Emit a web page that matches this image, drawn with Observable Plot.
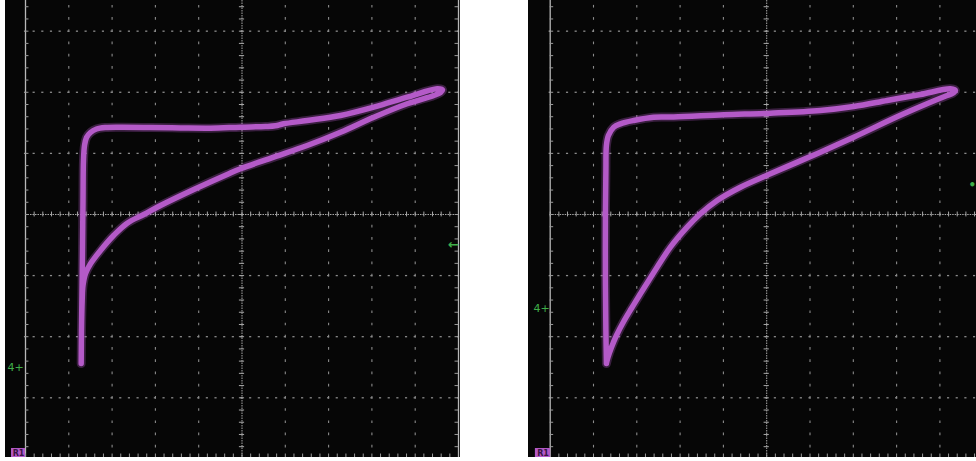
<!DOCTYPE html>
<html><head><meta charset="utf-8">
<script src="https://cdn.jsdelivr.net/npm/d3@7"></script>
<script src="https://cdn.jsdelivr.net/npm/@observablehq/plot@0.6"></script>
<style>
html,body{margin:0;padding:0;background:#fff}
body{width:976px;height:461px;overflow:hidden;position:relative;font-family:"DejaVu Sans",sans-serif}
.panel{position:absolute;top:0;line-height:0}
</style></head><body>
<div id="left" class="panel" style="left:5px"></div>
<div id="right" class="panel" style="left:528px"></div>
<script>
// ---- Data (screen divisions: x -5..5, y -4..4, origin at screen centre) ----
const leftX = [-3.714,-3.707,-3.695,-3.684,-3.672,-3.661,-3.637,-3.591,-3.499,-3.360,-3.152,-2.806,-2.113,-1.420,-0.727,-0.035,0.543,0.774,0.958,1.506,2.275,3.044,3.815,4.508,4.630,4.584,
               4.430,3.815,3.044,2.275,1.506,0.734,-0.035,-0.342,-1.113,-1.882,-2.268,-2.651,-2.961,-3.268,-3.499,-3.614,-3.672,-3.691,-3.707,-3.714];
const leftY = [-2.439,-1.899,-1.244,-0.589,0.229,0.884,1.129,1.260,1.342,1.399,1.424,1.429,1.424,1.416,1.412,1.429,1.440,1.452,1.484,1.538,1.620,1.756,1.920,2.057,2.038,1.997,
               1.948,1.812,1.592,1.347,1.129,0.938,0.748,0.655,0.409,0.147,0.000,-0.142,-0.340,-0.589,-0.807,-0.966,-1.162,-1.408,-1.899,-2.439];
const rightX = [-3.702,-3.714,-3.725,-3.725,-3.714,-3.702,-3.656,-3.533,-3.379,-3.072,-2.610,-2.148,-0.993,0.085,1.240,2.009,2.781,3.550,4.243,4.358,4.289,
                4.166,3.164,2.009,1.240,0.085,-0.607,-1.145,-1.531,-1.838,-2.224,-2.531,-2.917,-3.125,-3.303,-3.471,-3.587,-3.667,-3.702];
const rightY = [-2.439,-1.899,-1.080,-0.098,0.720,1.129,1.293,1.429,1.484,1.538,1.592,1.596,1.632,1.658,1.702,1.768,1.866,1.964,2.057,2.029,1.980,
                1.948,1.648,1.265,1.020,0.666,0.447,0.229,0.011,-0.208,-0.535,-0.862,-1.298,-1.538,-1.751,-1.980,-2.177,-2.340,-2.439];

const majorX = [-5,-4,-3,-2,-1,0,1,2,3,4,5];
const majorY = [-4,-3,-2,-1,0,1,2,3];
const channelLabel = "4+";
const refLabel = "R1";
const leftArrowLabel = "←";
const rightArrowLabel = "•";
// annotation anchors [x, y] in divisions
const leftChannelPos = [-5.23, -2.50];
const rightChannelPos = [-5.20, -1.54];
const leftArrowPos = [4.885, -0.49];
const rightArrowPos = [4.75, 0.475];
const leftRefBox = [-5.323, -5.0, -3.83, -3.977];
const rightRefBox = [-5.342, -4.99, -3.83, -3.977];

const Y_MIN = -3.977, Y_MAX = 3.502;
const TRACE = "#b45ac8";
const GREEN = "#3fae49";

function scope({xs, ys, width, marginLeft, marginRight, xDomain, chPos, arPos, arLabel, arSize, refBox, rightBorder}) {
  const trace = xs.map((x, i) => ({x, y: ys[i]}));
  const minorX = d3.range(-5, 5.0001, 0.2);
  const minorY = d3.range(-4, 3.6, 0.2);
  const hDots = [], vDots = [], cH = [], cV = [], bL = [], bR = [], bB = [];
  for (const k of majorY) if (k !== 0 && k !== -4) for (const m of minorX) hDots.push({y: k, x1: m - 0.025, x2: m + 0.025});
  for (const k of majorX) if (k !== 0 && Math.abs(k) !== 5) for (const m of minorY) vDots.push({x: k, y1: m - 0.022, y2: m + 0.022});
  for (const m of minorX) cH.push({x: m, y1: -0.04, y2: 0.04});
  for (const m of minorY) cV.push({y: m, x1: -0.06, x2: 0.06});
  for (const m of minorY) { bL.push({y: m, x1: -5, x2: -4.92}); bR.push({y: m, x1: 4.92, x2: 5}); }
  for (const m of minorX) bB.push({x: m, y1: -3.977, y2: -3.92});
  const marks = [
    Plot.ruleY(hDots, {y: "y", x1: "x1", x2: "x2", stroke: "#8c8c8c", strokeWidth: 1.3}),
    Plot.ruleX(vDots, {x: "x", y1: "y1", y2: "y2", stroke: "#8c8c8c", strokeWidth: 1.1}),
    Plot.ruleY([0], {stroke: "#a8a8a8", strokeWidth: 1, strokeDasharray: "1.5,1"}),
    Plot.ruleX([0], {stroke: "#a8a8a8", strokeWidth: 1, strokeDasharray: "1.5,1"}),
    Plot.ruleX(cH, {x: "x", y1: "y1", y2: "y2", stroke: "#a8a8a8", strokeWidth: 1}),
    Plot.ruleY(cV, {y: "y", x1: "x1", x2: "x2", stroke: "#a8a8a8", strokeWidth: 1}),
    Plot.ruleX([-5], {stroke: "#b8b8b8", strokeWidth: 1.3}),
    Plot.ruleY(bL, {y: "y", x1: "x1", x2: "x2", stroke: "#9a9a9a", strokeWidth: 1}),
    Plot.ruleX(bB, {x: "x", y1: "y1", y2: "y2", stroke: "#9a9a9a", strokeWidth: 1}),
  ];
  if (rightBorder) {
    marks.push(Plot.ruleX([5], {stroke: "#b8b8b8", strokeWidth: 1.3}));
    marks.push(Plot.ruleY(bR, {y: "y", x1: "x1", x2: "x2", stroke: "#9a9a9a", strokeWidth: 1}));
  }
  marks.push(
    Plot.line(trace, {x: "x", y: "y", curve: "catmull-rom", stroke: TRACE, strokeWidth: 9, strokeOpacity: 0.3, strokeLinejoin: "round", strokeLinecap: "round"}),
    Plot.line(trace, {x: "x", y: "y", curve: "catmull-rom", stroke: TRACE, strokeWidth: 5.5, strokeLinejoin: "round", strokeLinecap: "round"}),
    Plot.text([channelLabel], {x: [chPos[0]], y: [chPos[1]], fill: GREEN, fontSize: 11, textAnchor: "middle"}),
    Plot.text([arLabel], {x: [arPos[0]], y: [arPos[1]], fill: GREEN, fontSize: arSize, fontWeight: "bold", textAnchor: "middle"}),
    Plot.rect([refBox], {x1: d => d[0], x2: d => d[1], y1: d => d[2], y2: d => d[3], fill: TRACE}),
    Plot.text([refLabel], {x: [(refBox[0] + refBox[1]) / 2], y: [(refBox[2] + refBox[3]) / 2], fill: "#3a1544", fontSize: 8, fontWeight: "bold"})
  );
  return Plot.plot({
    width, height: 457, marginLeft, marginRight, marginTop: 0, marginBottom: 0,
    x: {domain: xDomain, axis: null},
    y: {domain: [Y_MIN, Y_MAX], axis: null},
    style: {background: "#060606", overflow: "hidden", fontFamily: "DejaVu Sans"},
    marks
  });
}

document.getElementById("left").append(scope({
  xs: leftX, ys: leftY, width: 455, marginLeft: 20, marginRight: 2, xDomain: [-5, 5],
  chPos: leftChannelPos, arPos: leftArrowPos, arLabel: leftArrowLabel, arSize: 13, refBox: leftRefBox, rightBorder: true
}));
document.getElementById("right").append(scope({
  xs: rightX, ys: rightY, width: 448, marginLeft: 21.7, marginRight: 0, xDomain: [-5, 4.845],
  chPos: rightChannelPos, arPos: rightArrowPos, arLabel: rightArrowLabel, arSize: 12, refBox: rightRefBox, rightBorder: false
}));
</script>
</body></html>
